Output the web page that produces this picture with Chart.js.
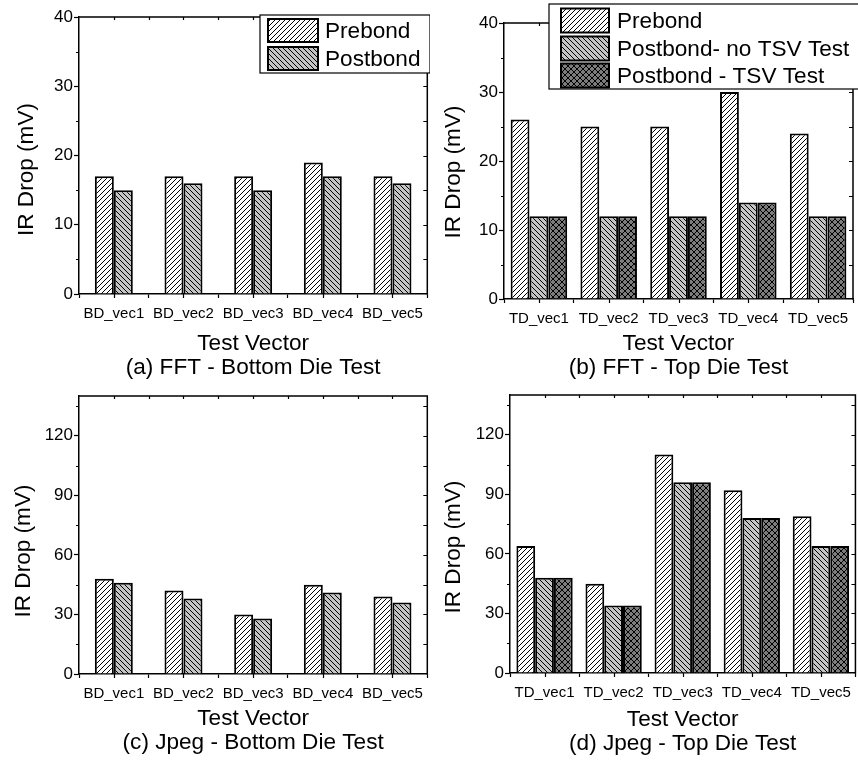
<!DOCTYPE html>
<html><head><meta charset="utf-8">
<script src="https://cdn.jsdelivr.net/npm/chart.js@4.4.1/dist/chart.umd.min.js"></script>
<style>
html,body{margin:0;padding:0;background:#fff;}
#wrap{position:relative;width:858px;height:761px;overflow:hidden;background:#fff;}
#wrap canvas{position:absolute;}
</style></head><body>
<div id="wrap">
<canvas id="ca" width="430" height="380" style="left:0px;top:0px"></canvas>
<canvas id="cb" width="428" height="380" style="left:430px;top:0px"></canvas>
<canvas id="cc" width="430" height="381" style="left:0px;top:380px"></canvas>
<canvas id="cd" width="428" height="381" style="left:430px;top:380px"></canvas>
</div>
<script>
// ---------- data ----------
const categoriesBottom = ['BD_vec1', 'BD_vec2', 'BD_vec3', 'BD_vec4', 'BD_vec5'];
const categoriesTop = ['TD_vec1', 'TD_vec2', 'TD_vec3', 'TD_vec4', 'TD_vec5'];

const fftBottomPrebond = [17, 17, 17, 19, 17];
const fftBottomPostbond = [15, 16, 15, 17, 16];

const fftTopPrebond = [26, 25, 25, 30, 24];
const fftTopPostNoTSV = [12, 12, 12, 14, 12];
const fftTopPostTSV = [12, 12, 12, 14, 12];

const jpegBottomPrebond = [48, 42, 30, 45, 39];
const jpegBottomPostbond = [46, 38, 28, 41, 36];

const jpegTopPrebond = [64, 45, 110, 92, 79];
const jpegTopPostNoTSV = [48, 34, 96, 78, 64];
const jpegTopPostTSV = [48, 34, 96, 78, 64];

const fftTickValues = [0, 10, 20, 30, 40];
const fftTickLabels = ['0', '10', '20', '30', '40'];
const jpegTickValues = [0, 30, 60, 90, 120];
const jpegTickLabels = ['0', '30', '60', '90', '120'];

const seriesNames2 = ['Prebond', 'Postbond'];
const seriesNames3 = ['Prebond', 'Postbond- no TSV Test', 'Postbond - TSV Test'];
const xTitle = 'Test Vector';
const yTitle = 'IR Drop (mV)';
const subTitles = ['(a) FFT - Bottom Die Test', '(b) FFT - Top Die Test', '(c) Jpeg - Bottom Die Test', '(d) Jpeg - Top Die Test'];

// ---------- styling helpers ----------
const FONT = "'Liberation Sans', Arial, Helvetica, sans-serif";
const BIG = 22.6;

function makePattern(bg, kind, p) {
  const c = document.createElement('canvas');
  c.width = p; c.height = p;
  const g = c.getContext('2d');
  g.fillStyle = bg; g.fillRect(0, 0, p, p);
  g.strokeStyle = '#000'; g.lineWidth = 1;
  g.beginPath();
  if (kind === 'fwd' || kind === 'cross') {
    g.moveTo(-1, p + 1); g.lineTo(p + 1, -1);
    g.moveTo(-1, 1); g.lineTo(1, -1);
    g.moveTo(p - 1, p + 1); g.lineTo(p + 1, p - 1);
  }
  if (kind === 'back' || kind === 'cross') {
    g.moveTo(-1, -1); g.lineTo(p + 1, p + 1);
    g.moveTo(p - 1, -1); g.lineTo(p + 1, 1);
    g.moveTo(-1, p - 1); g.lineTo(1, p + 1);
  }
  g.stroke();
  return g.createPattern(c, 'repeat');
}
const PAT_PRE = makePattern('#ffffff', 'fwd', 5);
const PAT_POST = makePattern('#c4c4c4', 'back', 5);
const PAT_TSV = makePattern('#7c7c7c', 'cross', 6);
const PATTERNS = [PAT_PRE, PAT_POST, PAT_TSV];

function minorValues(ticks, max) {
  const step = ticks[1] - ticks[0];
  const out = [];
  for (let i = 0; i < ticks.length; i++) {
    const v = ticks[i] + step / 2;
    if (v < max) out.push(v);
  }
  return out;
}

const framePlugin = {
  id: 'irFrame',
  afterDraw(chart, args, opts) {
    const ctx = chart.ctx, a = chart.chartArea, x = chart.scales.x, y = chart.scales.y;
    ctx.save();
    ctx.strokeStyle = '#000';
    ctx.lineWidth = 1.5;
    ctx.beginPath();
    ctx.moveTo(a.left - 0.75, a.top); ctx.lineTo(a.right, a.top); ctx.lineTo(a.right, a.bottom + 0.75);
    ctx.stroke();
    ctx.lineWidth = 1.2;
    ctx.beginPath();
    const majors = opts.tickValues, minors = opts.minors;
    minors.forEach(v => { const py = Math.round(y.getPixelForValue(v)) + 0.5; ctx.moveTo(a.left, py); ctx.lineTo(a.left - 3, py); });
    majors.concat(minors).forEach(v => {
      if (v <= y.min || v >= y.max) return;
      const py = Math.round(y.getPixelForValue(v)) + 0.5;
      ctx.moveTo(a.right, py); ctx.lineTo(a.right - 4, py);
    });
    const n = chart.data.labels.length;
    for (let i = 0; i < n; i++) {
      const px = Math.round(x.getPixelForValue(i)) + 0.5;
      ctx.moveTo(px, a.bottom); ctx.lineTo(px, a.bottom + 4);
      ctx.moveTo(px, a.top); ctx.lineTo(px, a.top + 3);
    }
    for (let i = 1; i < n; i++) {
      const px = Math.round(x.getPixelForValue(i - 0.5)) + 0.5;
      ctx.moveTo(px, a.top); ctx.lineTo(px, a.top + 3);
    }
    ctx.stroke();

    // y title
    ctx.fillStyle = '#000';
    ctx.font = BIG + 'px ' + FONT;
    ctx.textAlign = 'center';
    ctx.textBaseline = 'middle';
    ctx.save();
    ctx.translate(opts.yTitleX, (a.top + a.bottom) / 2 + opts.yTitleDy);
    ctx.rotate(-Math.PI / 2);
    ctx.fillText(opts.yTitle, 0, 0);
    ctx.restore();

    // legend
    const L = opts.legend;
    if (L && L.show) {
      ctx.fillStyle = '#fff';
      ctx.fillRect(L.x, L.y, L.w, L.h);
      ctx.lineWidth = 1.2;
      ctx.strokeStyle = '#000';
      ctx.strokeRect(L.x, L.y, L.w, L.h);
      chart.data.datasets.forEach((ds, i) => {
        const ry = L.rows[i];
        ctx.fillStyle = ds.backgroundColor;
        ctx.fillRect(L.sx, ry, L.sw, L.sh);
        ctx.lineWidth = 2;
        ctx.strokeStyle = '#000';
        ctx.strokeRect(L.sx, ry, L.sw, L.sh);
        ctx.fillStyle = '#000';
        ctx.font = BIG + 'px ' + FONT;
        ctx.textAlign = 'left';
        ctx.textBaseline = 'middle';
        ctx.fillText(ds.label, L.tx, ry + L.sh / 2 + 1);
      });
    }
    ctx.restore();
  }
};

function buildChart(id, cfg) {
  const datasets = cfg.series.map((d, i) => ({
    label: cfg.names[i],
    data: d,
    backgroundColor: PATTERNS[i],
    borderColor: '#000',
    borderWidth: 2,
    barPercentage: 1.0,
    categoryPercentage: cfg.catPct
  }));
  const area = cfg.area;
  return new Chart(document.getElementById(id), {
    type: 'bar',
    data: { labels: cfg.cats, datasets },
    plugins: [framePlugin],
    options: {
      responsive: false,
      animation: false,
      devicePixelRatio: 1,
      events: [],
      layout: { padding: { top: area.t, right: cfg.w - area.r, left: 0, bottom: 0 } },
      plugins: {
        legend: { display: false },
        tooltip: { enabled: false },
        irFrame: {
          tickValues: cfg.tickValues,
          minors: minorValues(cfg.tickValues, cfg.max),
          yTitle: yTitle,
          yTitleX: cfg.yTitleX,
          yTitleDy: cfg.yTitleDy,
          legend: cfg.legend
        }
      },
      scales: {
        x: {
          type: 'category',
          offset: true,
          grid: { display: true, drawOnChartArea: false, drawTicks: true, tickLength: 4, tickColor: '#000', tickWidth: 1.2, offset: true },
          border: { display: true, color: '#000', width: 1.5 },
          ticks: { color: '#000', font: { family: FONT, size: 15 }, padding: 7, maxRotation: 0, autoSkip: false },
          title: { display: true, text: [xTitle, cfg.sub], color: '#000', font: { family: FONT, size: BIG, lineHeight: 24 / BIG }, padding: { top: 0, bottom: cfg.titlePad } },
          afterFit: s => { s.height = cfg.h - area.b; }
        },
        y: {
          min: 0,
          max: cfg.max,
          afterBuildTicks: s => { s.ticks = cfg.tickValues.map(v => ({ value: v })); },
          grid: { display: true, drawOnChartArea: false, drawTicks: true, tickLength: 5, tickColor: '#000', tickWidth: 1.2 },
          border: { display: true, color: '#000', width: 1.5 },
          ticks: { color: '#000', font: { family: FONT, size: 17 }, padding: 1, callback: (v, i) => cfg.tickLabels[i] },
          afterFit: s => { s.width = area.l; }
        }
      }
    }
  });
}

const noLegend = { show: false };

buildChart('ca', {
  w: 430, h: 380, area: { l: 79, t: 17, r: 429, b: 294 },
  cats: categoriesBottom, names: seriesNames2, series: [fftBottomPrebond, fftBottomPostbond],
  tickValues: fftTickValues, tickLabels: fftTickLabels, max: 40, catPct: 0.545,
  sub: subTitles[0], titlePad: 0, yTitleX: 27, yTitleDy: 14,
  legend: { show: true, x: 260, y: 15, w: 170, h: 58, sx: 268, sw: 50, sh: 23, rows: [19, 47], tx: 325 }
});
buildChart('cb', {
  w: 428, h: 380, area: { l: 74, t: 23, r: 423, b: 299 },
  cats: categoriesTop, names: seriesNames3, series: [fftTopPrebond, fftTopPostNoTSV, fftTopPostTSV],
  tickValues: fftTickValues, tickLabels: fftTickLabels, max: 40, catPct: 0.81,
  sub: subTitles[1], titlePad: 0, yTitleX: 24, yTitleDy: 11,
  legend: { show: true, x: 119, y: 4, w: 330, h: 85, sx: 131, sw: 48, sh: 24, rows: [8.5, 36.5, 63.5], tx: 187 }
});
buildChart('cc', {
  w: 430, h: 381, area: { l: 79, t: 16, r: 429, b: 294 },
  cats: categoriesBottom, names: seriesNames2, series: [jpegBottomPrebond, jpegBottomPostbond],
  tickValues: jpegTickValues, tickLabels: jpegTickLabels, max: 140, catPct: 0.545,
  sub: subTitles[2], titlePad: 6, yTitleX: 24, yTitleDy: 16,
  legend: noLegend
});
buildChart('cd', {
  w: 428, h: 381, area: { l: 80, t: 15, r: 427, b: 293 },
  cats: categoriesTop, names: seriesNames3, series: [jpegTopPrebond, jpegTopPostNoTSV, jpegTopPostTSV],
  tickValues: jpegTickValues, tickLabels: jpegTickLabels, max: 140, catPct: 0.815,
  sub: subTitles[3], titlePad: 5, yTitleX: 24, yTitleDy: 13,
  legend: noLegend
});
</script>
</body></html>
